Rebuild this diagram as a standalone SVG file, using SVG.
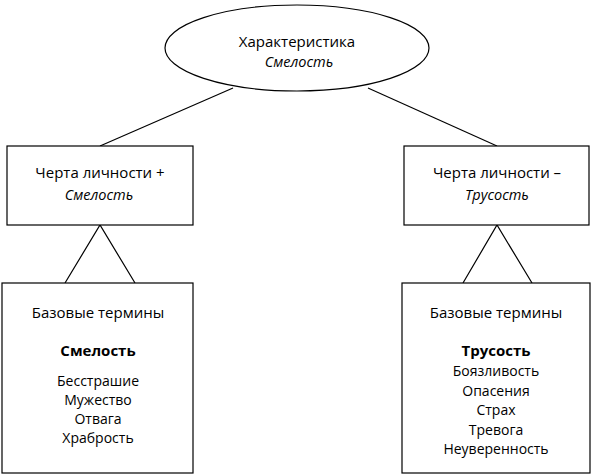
<svg xmlns="http://www.w3.org/2000/svg" width="593" height="475" viewBox="0 0 593 475">
<style>
.s{fill:#fff;stroke:#000;stroke-width:1.2}
.c{stroke:#000;stroke-width:1.2;fill:none}
text{font-family:"Open Sans","DejaVu Sans",sans-serif;font-size:15px;fill:#000;text-anchor:middle}
.i{font-style:italic;font-size:14.5px}
.b{font-weight:bold}
.l{font-size:14px}
</style>
<rect width="593" height="475" fill="#fff"/>
<g id="connectors">
<line class="c" x1="233" y1="88" x2="100" y2="146"/>
<line class="c" x1="368" y1="88" x2="497" y2="146"/>
<polyline class="c" points="65,283 100,225 135,283"/>
<polyline class="c" points="463,283 497,225 532,283"/>
</g>
<g id="top">
<ellipse class="s" cx="297" cy="48" rx="132" ry="43"/>
<text x="297" y="47">Характеристика</text>
<text class="i" x="299" y="67">Смелость</text>
</g>
<g id="left-trait">
<rect class="s" x="7" y="146" width="186" height="79"/>
<text x="100" y="178">Черта личности +</text>
<text class="i" x="99" y="200">Смелость</text>
</g>
<g id="right-trait">
<rect class="s" x="404" y="146" width="185" height="79"/>
<text x="497" y="178">Черта личности –</text>
<text class="i" x="497" y="200">Трусость</text>
</g>
<g id="left-base">
<rect class="s" x="2" y="283" width="191" height="190"/>
<text x="98" y="318">Базовые термины</text>
<text class="b" x="98" y="356">Смелость</text>
<text class="l" x="98" y="386">Бесстрашие</text>
<text class="l" x="98" y="405">Мужество</text>
<text class="l" x="98" y="424">Отвага</text>
<text class="l" x="98" y="443">Храбрость</text>
</g>
<g id="right-base">
<rect class="s" x="402" y="283" width="188" height="190"/>
<text x="496" y="318">Базовые термины</text>
<text class="b" x="496" y="356">Трусость</text>
<text class="l" x="496" y="376">Боязливость</text>
<text class="l" x="496" y="396">Опасения</text>
<text class="l" x="496" y="415">Страх</text>
<text class="l" x="496" y="435">Тревога</text>
<text class="l" x="496" y="454">Неуверенность</text>
</g>
</svg>
